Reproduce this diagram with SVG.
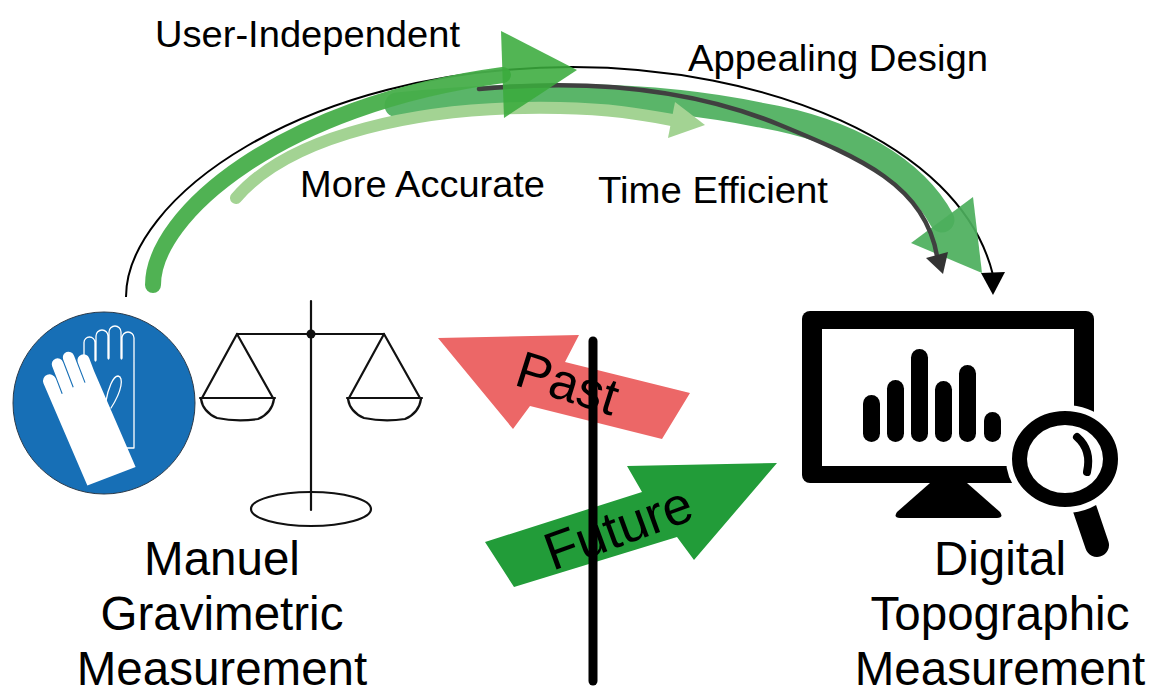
<svg xmlns="http://www.w3.org/2000/svg" width="1155" height="695" viewBox="0 0 1155 695">
  <style>
    .lbl{font-family:"Liberation Sans",Arial,Helvetica,sans-serif;fill:#000}
    .top{font-size:36px}
    .big{font-size:47.5px;text-anchor:middle}
    .sign{text-anchor:middle}
    .ink{fill:none;stroke:#111;stroke-width:2.2;stroke-linecap:round;stroke-linejoin:round}
    .glove-line{fill:none;stroke:#fff;stroke-width:1.3;stroke-linecap:round;stroke-linejoin:round}
  </style>

  <!-- curved improvement arrows between the two methods -->
  <g id="connectors">
    <path d="M126,297 C126,200 300,68 572,67 C760,67 960,140 993,275" fill="none" stroke="#000" stroke-width="2"/>
    <polygon points="981,273 1005,272 993,295" fill="#000"/>

    <path d="M397,105 C520,92 650,92 760,115 C850,130 915,170 942,220" fill="none" stroke="#4caf5c" stroke-width="25" stroke-linecap="round" opacity="0.92"/>
    <polygon points="911,243 973,197 982,273" fill="#4caf5c" opacity="0.92"/>

    <path d="M479,89 C600,78 700,92 780,125 C860,158 925,185 937,256" fill="none" stroke="#404040" stroke-width="4.5" stroke-linecap="round"/>
    <polygon points="926,258 948,252 943,274" fill="#333"/>

    <path d="M236,198 C290,135 420,105 560,108 C610,109 640,114 672,120" fill="none" stroke="#a3d393" stroke-width="12" stroke-linecap="round"/>
    <polygon points="675,102 668,138 705,125" fill="#a3d393"/>

    <path d="M153,285 C153,215 280,105 503,75" fill="none" stroke="#47ae4a" stroke-width="16" stroke-linecap="round" opacity="0.95"/>
    <polygon points="501,31 504,118 577,70" fill="#3aab3c" opacity="0.88"/>
  </g>

  <!-- arrow labels -->
  <g id="arrow-labels" class="lbl top">
    <text x="155" y="47" textLength="305" lengthAdjust="spacingAndGlyphs">User-Independent</text>
    <text x="688" y="71" textLength="300" lengthAdjust="spacingAndGlyphs">Appealing Design</text>
    <text x="300" y="197" textLength="245" lengthAdjust="spacingAndGlyphs">More Accurate</text>
    <text x="598" y="203" textLength="230" lengthAdjust="spacingAndGlyphs">Time Efficient</text>
  </g>

  <!-- gloves sign -->
  <g id="gloves">
    <circle cx="104" cy="403" r="91" fill="#176fb6" stroke="#2a3a4a" stroke-width="1"/>
    <path class="glove-line" d="M84,372 V342.5 A5.5,5.5 0 0 1 95,342.5 V360 Q95.5,362 96,360 V336 A6,6 0 0 1 108,336 V358 Q108.5,360 109,358 V332 A6,6 0 0 1 121,332 V358 Q121.5,360 122,358 V338 A6,6 0 0 1 134,338 V448 H127"/>
    <path class="glove-line" d="M106,401 C108,389 113,376 118,376 C124,377 122,391 111,408"/>
    <path transform="translate(112,476) rotate(-21) scale(1.1)" fill="#fff" d="M-24,0 L23,0 L19,-95 V-107.5 A5.5,5.5 0 0 0 8,-107.5 V-88 L7,-88 V-114.75 A5.25,5.25 0 0 0 -3.5,-114.75 V-88 L-4.5,-88 V-112.75 A5.25,5.25 0 0 0 -15,-112.75 V-86 L-16,-86 V-101 A6,6 0 0 0 -28,-101 Z"/>
  </g>

  <!-- balance scale -->
  <g id="balance">
    <path class="ink" d="M311,301 V510" stroke-width="3.2"/>
    <path class="ink" d="M237,334 H384"/>
    <circle cx="311" cy="334" r="4.5" fill="#111"/>
    <path class="ink" d="M237,334 L202,398 M237,334 L273,398 M200,398 H275"/>
    <path class="ink" d="M201,399 Q203,412 217,418 Q237,422 258,419 Q272,413 274,399"/>
    <path class="ink" d="M384,334 L349,398 M384,334 L420,398 M347,398 H422"/>
    <path class="ink" d="M348,399 Q350,412 364,418 Q384,422 405,419 Q419,413 421,399"/>
    <ellipse class="ink" cx="311" cy="509" rx="60" ry="17" stroke-width="2"/>
  </g>

  <!-- signpost -->
  <g id="signpost">
    <polygon points="438,338 579,335 565,362 690,393 662,439 530,406 513,429" fill="#ec6767"/>
    <polygon points="485,542 642,492 627,466 777,463 694,560 677,537 514,587" fill="#229c39"/>
    <path d="M593,341 V681" stroke="#000" stroke-width="9" stroke-linecap="round"/>
    <text class="lbl sign" font-size="52" transform="translate(568,382) rotate(17.5)" y="19">Past</text>
    <text class="lbl sign" font-size="53" transform="translate(618,527) rotate(-20)" y="19">Future</text>
  </g>

  <!-- monitor with chart and magnifier -->
  <g id="monitor">
    <rect x="802" y="311" width="292" height="172" rx="8" fill="#000"/>
    <rect x="822" y="329" width="252" height="137" fill="#fff"/>
    <path d="M930,483 L967,483 L1000,512 Q1004,518 997,518 L900,518 Q893,518 897,512 Z" fill="#000"/>
    <g fill="#000">
      <rect x="863" y="395" width="17" height="47" rx="8.5"/>
      <rect x="887" y="380" width="17" height="62" rx="8.5"/>
      <rect x="911" y="349" width="17" height="93" rx="8.5"/>
      <rect x="935" y="381" width="17" height="61" rx="8.5"/>
      <rect x="959" y="365" width="17" height="77" rx="8.5"/>
      <rect x="984" y="412" width="17" height="30" rx="8.5"/>
    </g>
    <path d="M1080,495 L1097,545" stroke="#000" stroke-width="24" stroke-linecap="round"/>
    <ellipse cx="1065" cy="459" rx="56" ry="51" fill="#000" stroke="#fff" stroke-width="6"/>
    <ellipse cx="1065" cy="459" rx="38" ry="34" fill="#fff"/>
    <path d="M1077,437 Q1092,450 1087,472" fill="none" stroke="#000" stroke-width="8" stroke-linecap="round"/>
  </g>

  <!-- method labels -->
  <g id="label-manual" class="lbl big">
    <text x="222" y="575">Manuel</text>
    <text x="222" y="630">Gravimetric</text>
    <text x="222" y="685">Measurement</text>
  </g>
  <g id="label-digital" class="lbl big">
    <text x="1000" y="575">Digital</text>
    <text x="1000" y="630">Topographic</text>
    <text x="1000" y="685">Measurement</text>
  </g>
</svg>
